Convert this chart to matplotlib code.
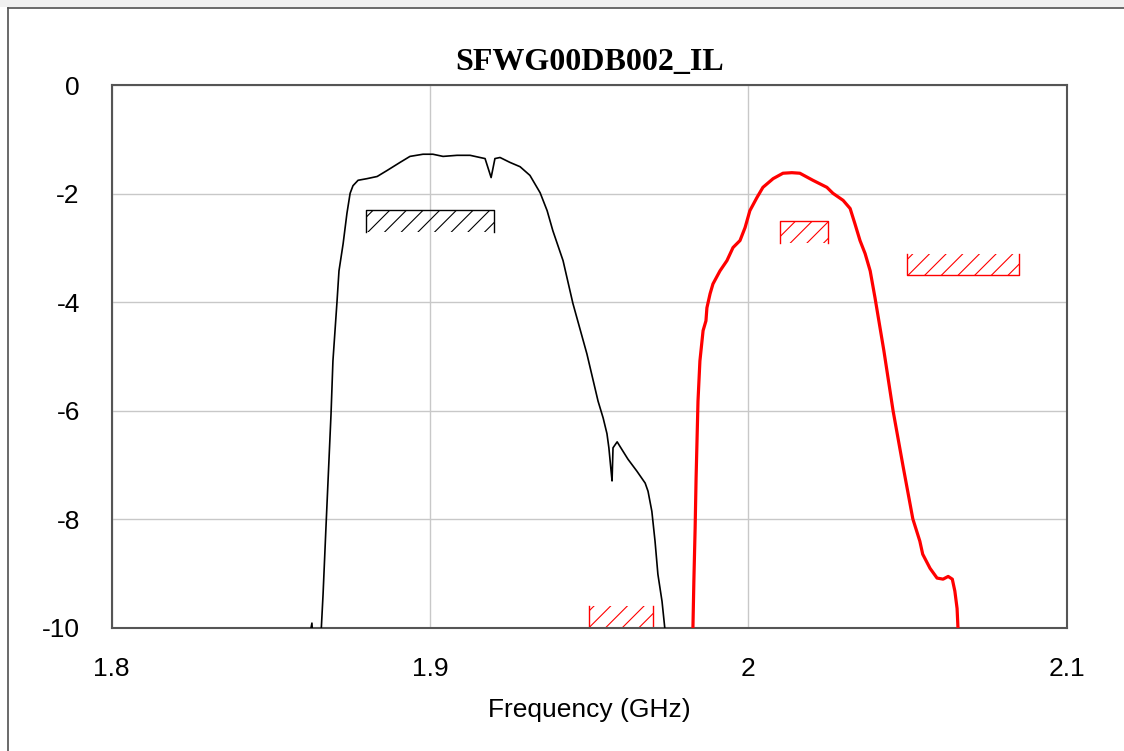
import matplotlib
matplotlib.use("Agg")
import matplotlib.pyplot as plt
from matplotlib.patches import Rectangle
from matplotlib.lines import Line2D

title = "SFWG00DB002_IL"
xlabel = "Frequency (GHz)"
xticks = [1.8, 1.9, 2.0, 2.1]
xticklabels = ["1.8", "1.9", "2", "2.1"]
yticks = [0, -2, -4, -6, -8, -10]

# Channel 1 (black) insertion loss
f_black = [1.8607, 1.8629, 1.8636, 1.8648, 1.8658, 1.8664, 1.8673, 1.8689, 1.8695,
           1.8708, 1.8714, 1.8727, 1.8739, 1.8749, 1.8758, 1.8774, 1.8802, 1.8834,
           1.8865, 1.8906, 1.8937, 1.8978, 1.9009, 1.9041, 1.9085, 1.9126, 1.9157,
           1.9173, 1.9192, 1.9204, 1.9220, 1.9251, 1.9283, 1.9314, 1.9346, 1.9368,
           1.9386, 1.9418, 1.9449, 1.9493, 1.9528, 1.9544, 1.9556, 1.9562, 1.9569,
           1.9572, 1.9575, 1.9588, 1.9606, 1.9622, 1.9650, 1.9676, 1.9685, 1.9697,
           1.9707, 1.9716, 1.9729, 1.9738, 1.9748]
il_black = [-10.6, -9.91, -10.6, -10.4, -10.06, -9.38, -8.16, -6.06, -5.08,
            -3.97, -3.42, -2.92, -2.36, -1.99, -1.85, -1.75, -1.72, -1.68,
            -1.57, -1.42, -1.31, -1.27, -1.27, -1.31, -1.29, -1.29, -1.33,
            -1.35, -1.70, -1.35, -1.33, -1.42, -1.50, -1.66, -1.98, -2.31,
            -2.68, -3.23, -4.02, -4.95, -5.82, -6.13, -6.42, -6.68, -7.11,
            -7.29, -6.68, -6.57, -6.74, -6.89, -7.11, -7.33, -7.48, -7.85,
            -8.40, -9.01, -9.51, -10.02, -10.6]

# Channel 2 (red) insertion loss
f_red = [1.9817, 1.9826, 1.9829, 1.9833, 1.9836, 1.9842, 1.9848, 1.9858, 1.9867,
         1.9870, 1.9880, 1.9889, 1.9911, 1.9933, 1.9952, 1.9974, 1.9990, 2.0005,
         2.0027, 2.0046, 2.0078, 2.0109, 2.0137, 2.0162, 2.0203, 2.0247, 2.0266,
         2.0298, 2.0320, 2.0335, 2.0351, 2.0367, 2.0383, 2.0398, 2.0426, 2.0455,
         2.0486, 2.0517, 2.0539, 2.0548, 2.0571, 2.0593, 2.0612, 2.0628, 2.0641,
         2.0649, 2.0656, 2.0659, 2.0665]
il_red = [-10.6, -10.02, -9.14, -8.16, -7.24, -5.82, -5.08, -4.52, -4.34,
          -4.10, -3.84, -3.66, -3.42, -3.23, -2.99, -2.86, -2.62, -2.31,
          -2.07, -1.88, -1.72, -1.62, -1.61, -1.62, -1.75, -1.88, -1.99,
          -2.12, -2.27, -2.55, -2.86, -3.10, -3.42, -3.91, -4.89, -6.00,
          -7.01, -7.99, -8.40, -8.64, -8.90, -9.08, -9.10, -9.05, -9.10,
          -9.32, -9.64, -10.02, -10.6]

# Spec masks
mask_f0 = [1.88, 2.01, 2.05, 1.95]
mask_f1 = [1.92, 2.025, 2.085, 1.97]
mask_ytop = [-2.3, -2.5, -3.1, -9.6]
mask_ybot = [-2.7, -2.9, -3.5, -10.0]
mask_color = ["black", "red", "red", "red"]
mask_edge = ["top", "top", "bottom", "bottom"]

plt.rcParams["hatch.linewidth"] = 0.8
plt.rcParams["axes.unicode_minus"] = False

fig = plt.figure(figsize=(11.24, 7.51), dpi=100)
ax = fig.add_axes([0.0994, 0.1638, 0.8495, 0.7226])

ax.plot(f_black, il_black, color="black", lw=1.2, zorder=3)
ax.plot(f_red, il_red, color="red", lw=2.3, zorder=3)

for x0, x1, yt, yb, c, edge in zip(mask_f0, mask_f1, mask_ytop, mask_ybot, mask_color, mask_edge):
    ax.add_patch(Rectangle((x0, yb), x1 - x0, yt - yb, facecolor="none",
                           edgecolor=c, hatch="//", lw=0, zorder=2))
    ey = yt if edge == "top" else yb
    oy = yb if edge == "top" else yt
    ax.plot([x0, x0, x1, x1], [oy, ey, ey, oy], color=c, lw=1.0, zorder=2)

ax.set_xlim(1.8, 2.1)
ax.set_ylim(-10, 0)
ax.set_xticks(xticks)
ax.set_xticklabels(xticklabels)
ax.set_yticks(yticks)
ax.grid(True, color="#c8c8c8", lw=1.0)
ax.set_axisbelow(True)
ax.tick_params(length=0, labelsize=19)
ax.tick_params(axis="x", pad=21)
ax.tick_params(axis="y", pad=23)
for lab in ax.get_xticklabels() + ax.get_yticklabels():
    lab.set_fontfamily("Liberation Sans")
for s in ax.spines.values():
    s.set_color("#555555")
    s.set_linewidth(1.5)

ax.set_xlabel(xlabel, fontsize=19, family="Liberation Sans", labelpad=12)
ax.set_title(title, fontsize=23, family="Liberation Serif", fontweight="bold", pad=11)

# outer window frame
fig.add_artist(Rectangle((0, 1 - 7 / 751), 1, 7 / 751, transform=fig.transFigure,
                         facecolor="#f0f0f0", edgecolor="none"))
fig.add_artist(Line2D([7.5 / 1124, 1], [1 - 8 / 751, 1 - 8 / 751], transform=fig.transFigure,
                      color="#505050", lw=1.2))
fig.add_artist(Line2D([7.5 / 1124, 7.5 / 1124], [0, 1 - 8 / 751], transform=fig.transFigure,
                      color="#505050", lw=1.2))

fig.savefig("out.png", dpi=100)
